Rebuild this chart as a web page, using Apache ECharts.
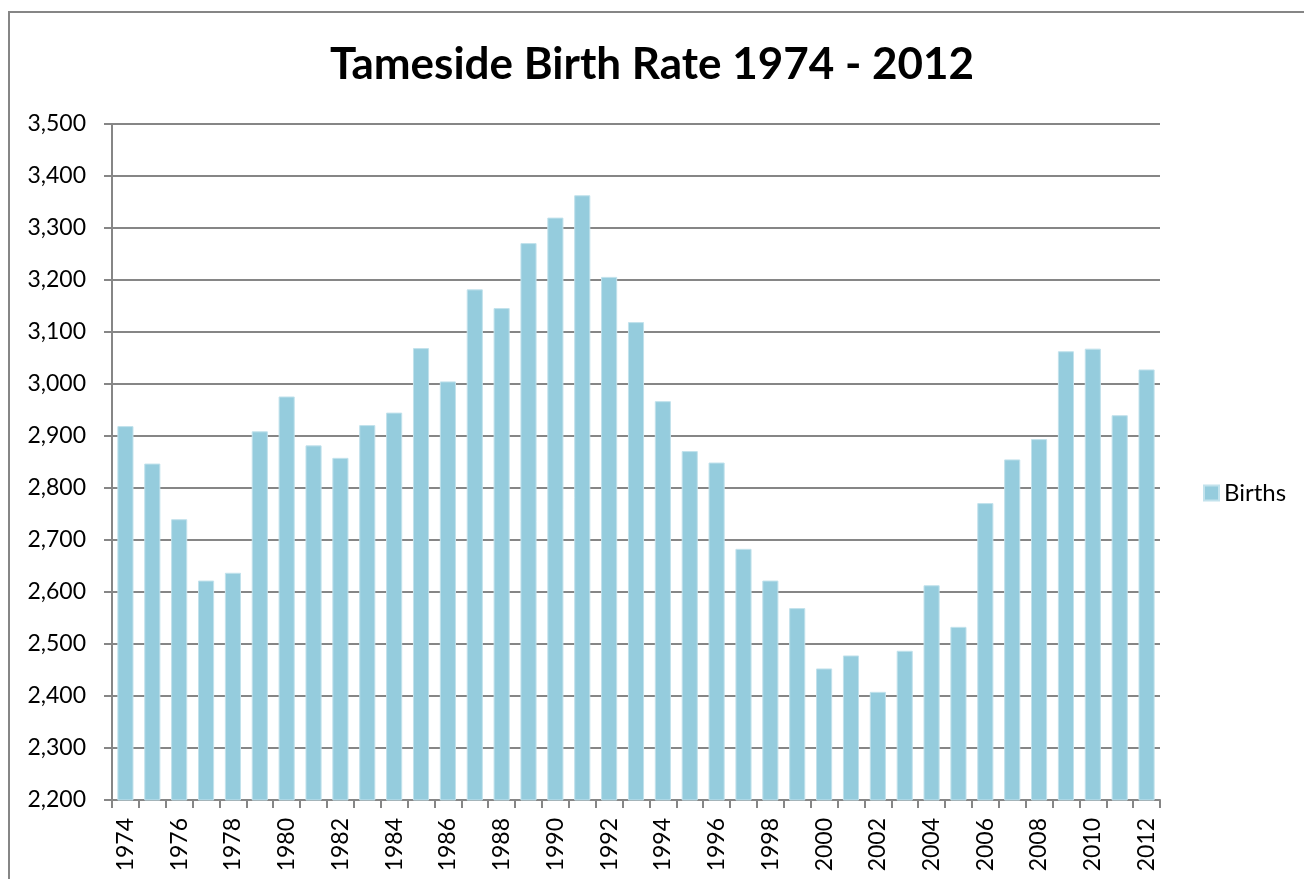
<!DOCTYPE html>
<html lang="en">
<head>
    <meta charset="UTF-8">
    <title>Tameside Birth Rate 1974 - 2012</title>
    <style>
        html, body {
            margin: 0;
            padding: 0;
            background: #ffffff;
        }
        #main {
            width: 1304px;
            height: 879px;
        }
    </style>
    <script type="text/javascript" src="https://cdn.jsdelivr.net/npm/echarts@6/dist/echarts.min.js"></script>
</head>
<body>
<div id="main"></div>
<script type="text/javascript">
    var years = ["1974","1975","1976","1977","1978","1979","1980","1981","1982","1983",
        "1984","1985","1986","1987","1988","1989","1990","1991","1992","1993",
        "1994","1995","1996","1997","1998","1999","2000","2001","2002","2003",
        "2004","2005","2006","2007","2008","2009","2010","2011","2012"];
    var births = [2919,2847,2740,2622,2637,2909,2976,2882,2858,2921,
        2945,3069,3005,3182,3146,3271,3320,3363,3206,3119,
        2967,2871,2849,2683,2622,2569,2453,2478,2408,2487,
        2613,2533,2771,2855,2894,3063,3068,2940,3028];
    var yMin = 2200;
    var yMax = 3500;
    var yStep = 100;

    var chart = echarts.init(document.getElementById('main'));
    var font = 'Lato, "Open Sans", sans-serif';
    var option = {
        animation: false,
        title: {
            text: 'Tameside Birth Rate 1974 - 2012',
            left: 'center',
            top: 38,
            textStyle: {
                fontFamily: font,
                fontWeight: 'bold',
                fontSize: 44,
                color: '#000000'
            }
        },
        legend: {
            left: 1198,
            top: 476,
            itemWidth: 15,
            itemHeight: 15,
            itemGap: 8,
            icon: 'rect',
            data: ['Births'],
            textStyle: {
                fontFamily: font,
                fontSize: 24,
                color: '#000000'
            }
        },
        grid: {
            left: 112,
            right: 144,
            top: 124,
            bottom: 79
        },
        xAxis: {
            type: 'category',
            data: years,
            axisLine: {lineStyle: {color: '#868686', width: 2}},
            axisTick: {
                show: true,
                interval: 0,
                length: 8,
                lineStyle: {color: '#868686', width: 2}
            },
            axisLabel: {
                interval: 1,
                rotate: 90,
                margin: 18,
                fontFamily: font,
                fontSize: 23,
                color: '#000000'
            },
            splitLine: {show: false}
        },
        yAxis: {
            type: 'value',
            min: yMin,
            max: yMax,
            interval: yStep,
            axisLine: {show: true, lineStyle: {color: '#868686', width: 2}},
            axisTick: {
                show: true,
                length: 8,
                lineStyle: {color: '#868686', width: 2}
            },
            axisLabel: {
                margin: 26,
                fontFamily: font,
                fontSize: 23,
                color: '#000000',
                formatter: function (v) {
                    return v.toLocaleString('en-US');
                }
            },
            splitLine: {lineStyle: {color: '#868686', width: 2}}
        },
        graphic: [{
            type: 'rect',
            shape: {x: 9, y: 12, width: 1400, height: 1000},
            style: {fill: 'none', stroke: '#868686', lineWidth: 2},
            silent: true
        }],
        series: [{
            name: 'Births',
            type: 'bar',
            data: births,
            barWidth: '60%',
            itemStyle: {
                color: '#95CCDD',
                borderColor: '#c2e2ec',
                borderWidth: 1
            }
        }]
    };
    chart.setOption(option);
</script>
</body>
</html>
